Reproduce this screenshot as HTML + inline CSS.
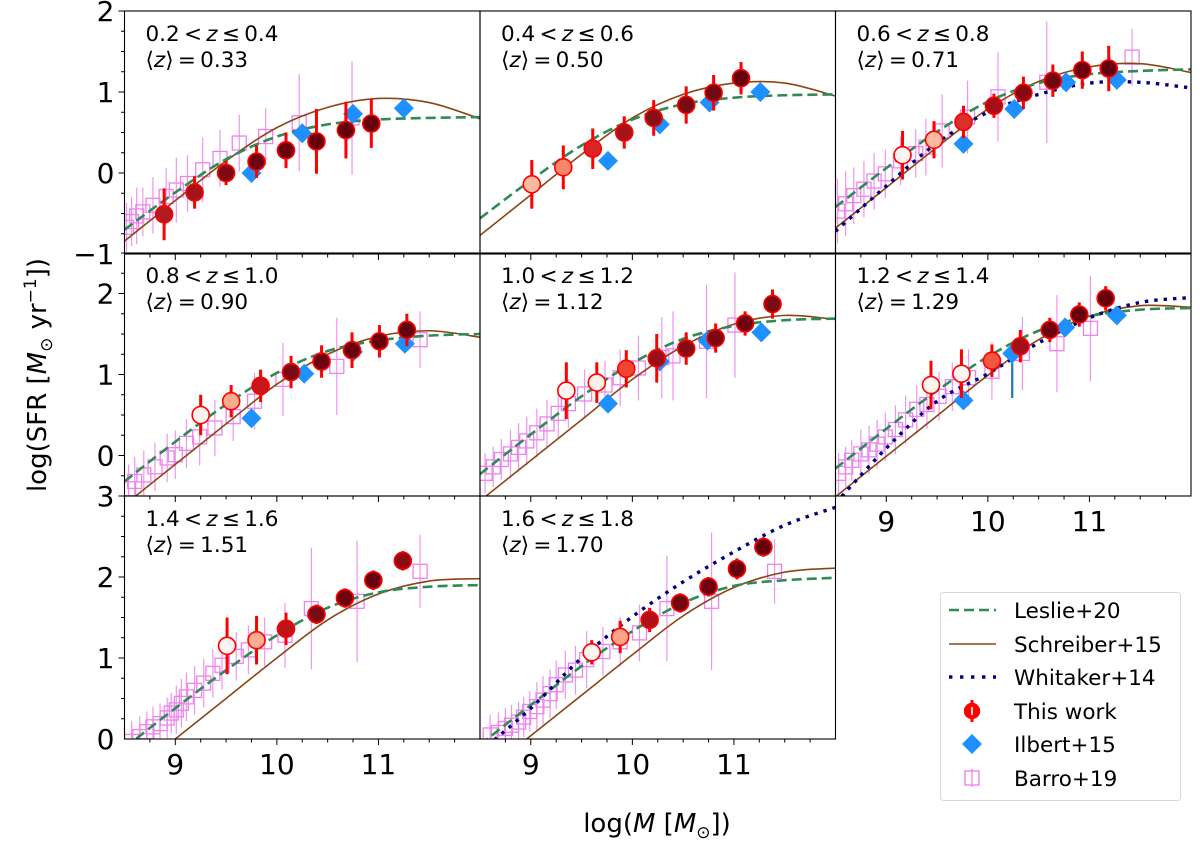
<!DOCTYPE html>
<html><head><meta charset="utf-8"><title>SFR main sequence</title>
<style>
html,body{margin:0;padding:0;background:#fff;}
svg{display:block;font-family:"DejaVu Sans","Liberation Sans",sans-serif;}
</style></head>
<body>
<svg id="chart" width="1200" height="845" viewBox="0 0 1200 845" xmlns="http://www.w3.org/2000/svg"></svg>
<script>
// ---------- data ----------
const zRanges = ["0.2","0.4","0.6","0.8","1.0","1.2","1.4","1.6","1.8"];
const zMeans = ["0.33","0.50","0.71","0.90","1.12","1.29","1.51","1.70"];
const massGrid = [8.5, 9, 9.5, 10, 10.5, 11, 11.5, 12];
const leslieCurves = [
  [-0.70,-0.24,0.17,0.45,0.60,0.66,0.68,0.69],
  [-0.56,-0.09,0.34,0.66,0.85,0.93,0.96,0.97],
  [-0.42,0.06,0.51,0.88,1.11,1.22,1.26,1.28],
  [-0.32,0.17,0.63,1.02,1.29,1.42,1.48,1.50],
  [-0.23,0.26,0.73,1.14,1.44,1.60,1.67,1.69],
  [-0.16,0.33,0.80,1.22,1.54,1.72,1.80,1.82],
  [-0.11,0.38,0.85,1.28,1.62,1.81,1.88,1.90],
  [-0.07,0.42,0.90,1.33,1.68,1.89,1.96,1.99]
];
const schreiberCurves = [
  [-0.84,-0.34,0.15,0.56,0.81,0.92,0.87,0.67],
  [-0.77,-0.27,0.23,0.68,0.97,1.11,1.11,0.95],
  [-0.68,-0.18,0.32,0.79,1.13,1.31,1.35,1.24],
  [-0.61,-0.11,0.39,0.88,1.25,1.47,1.54,1.46],
  [-0.56,-0.06,0.44,0.94,1.35,1.62,1.73,1.68],
  [-0.51,-0.01,0.49,0.99,1.43,1.72,1.85,1.83],
  [-0.50,0.00,0.50,1.00,1.47,1.79,1.95,1.98],
  [-0.46,0.04,0.54,1.04,1.52,1.87,2.06,2.11]
];
const whitakerCurves = [
  null, null,
  [-0.72,-0.16,0.37,0.75,0.97,1.11,1.12,1.05],
  null, null,
  [-0.59,0.09,0.67,1.01,1.39,1.70,1.89,1.95],
  null,
  [-0.16,0.38,1.00,1.51,1.94,2.31,2.64,2.86]
];
const twMass = [
  [8.89,9.19,9.50,9.80,10.09,10.39,10.68,10.93],
  [9.01,9.32,9.61,9.92,10.21,10.53,10.80,11.07],
  [9.16,9.47,9.76,10.06,10.35,10.64,10.93,11.19],
  [9.25,9.55,9.84,10.14,10.44,10.74,11.01,11.28],
  [9.35,9.65,9.94,10.24,10.53,10.82,11.11,11.38],
  [9.44,9.74,10.04,10.32,10.61,10.90,11.16],
  [9.51,9.80,10.09,10.39,10.67,10.95,11.24],
  [9.60,9.88,10.17,10.47,10.75,11.03,11.29]
];
const twSfr = [
  [-0.51,-0.24,0.00,0.14,0.28,0.39,0.53,0.61],
  [-0.14,0.07,0.30,0.50,0.68,0.84,0.99,1.17],
  [0.22,0.41,0.63,0.83,0.99,1.14,1.27,1.29],
  [0.50,0.67,0.86,1.03,1.16,1.30,1.41,1.55],
  [0.80,0.90,1.07,1.20,1.32,1.45,1.63,1.87],
  [0.87,1.01,1.17,1.35,1.55,1.74,1.94],
  [1.15,1.22,1.36,1.54,1.74,1.96,2.20],
  [1.07,1.26,1.47,1.68,1.88,2.10,2.37]
];
const twErr = [
  [0.32,0.2,0.15,0.2,0.22,0.4,0.35,0.3],
  [0.3,0.27,0.25,0.2,0.22,0.23,0.22,0.2],
  [0.3,0.23,0.2,0.15,0.2,0.2,0.23,0.28],
  [0.25,0.2,0.2,0.2,0.2,0.22,0.2,0.2],
  [0.35,0.25,0.23,0.3,0.2,0.18,0.15,0.18],
  [0.3,0.3,0.2,0.2,0.15,0.15,0.15],
  [0.35,0.3,0.2,0.12,0.12,0.12,0.12],
  [0.15,0.2,0.15,0.12,0.12,0.13,0.12]
];
const twFill = [
  ['#b11a1e','#a51419','#7d0a12','#6e0210','#6a000d','#67000d','#67000d','#67000d'],
  ['#fbbba0','#f9866b','#d92525','#a51419','#850f15','#7a0b12','#700a10','#67000d'],
  ['#fff5f0','#fcbba1','#dc2e2a','#a50f15','#860811','#720610','#6a000d','#67000d'],
  ['#fff5f0','#fcab8f','#c8171c','#7c0a12','#6e0210','#6a000d','#67000d','#67000d'],
  ['#fff5f0','#fff0e8','#ef4533','#99101a','#860c12','#7a0610','#6e0210','#7a0b12'],
  ['#fff5f0','#fff5f0','#f1583f','#a11018','#6e0210','#6a000d','#67000d'],
  ['#fff5f0','#fcae91','#bc141a','#7a0b12','#6e0210','#6a000d','#8f0b14'],
  ['#fff5f0','#fca486','#ae1117','#700a10','#6e0210','#6a000d','#67000d']
];
const ilMass = [
  [9.75,10.25,10.75,11.25],[9.76,10.27,10.76,11.26],[9.76,10.26,10.77,11.27],
  [9.75,10.27,10.75,11.26],[9.76,10.27,10.74,11.27],[9.76,10.24,10.76,11.27],[],[]
];
const ilSfr = [
  [0.00,0.49,0.73,0.80],[0.15,0.60,0.87,1.00],[0.36,0.79,1.12,1.15],
  [0.46,1.01,1.28,1.38],[0.64,1.16,1.42,1.52],[0.68,1.26,1.58,1.73],[],[]
];
const ilErrLow = [[0,0,0,0],[0,0,0,0],[0,0,0,0],[0,0,0,0],[0,0,0,0],[0,0.55,0,0],[],[]];
const baMass = [
  [8.52,8.57,8.62,8.68,8.78,8.91,9.01,9.12,9.27,9.44,9.63,9.89,10.22,10.74],
  [],
  [8.52,8.60,8.68,8.78,8.88,8.99,9.14,9.29,9.39,9.55,9.80,10.10,10.58,11.42],
  [8.54,8.60,8.69,8.80,8.92,9.00,9.11,9.24,9.39,9.57,9.78,10.06,10.59,11.41],
  [8.55,8.63,8.71,8.80,8.88,8.96,9.06,9.16,9.27,9.37,9.53,9.73,9.88,10.06,10.29,10.40,10.73,11.01],
  [8.53,8.60,8.66,8.75,8.83,8.91,8.99,9.09,9.19,9.30,9.40,9.52,9.65,9.81,10.04,10.34,10.68,11.01],
  [8.57,8.65,8.72,8.78,8.85,8.92,8.96,9.01,9.06,9.11,9.19,9.28,9.37,9.46,9.60,9.72,9.88,10.08,10.34,10.79,11.41],
  [8.60,8.68,8.75,8.81,8.88,8.93,8.99,9.06,9.12,9.19,9.25,9.34,9.44,9.55,9.71,9.88,10.07,10.34,10.78,11.40]
];
const baSfr = [
  [-0.67,-0.60,-0.53,-0.48,-0.40,-0.29,-0.21,-0.13,0.04,0.18,0.37,0.45,0.62,0.68],
  [],
  [-0.47,-0.38,-0.28,-0.20,-0.10,-0.01,0.15,0.24,0.32,0.52,0.69,0.94,1.12,1.43],
  [-0.41,-0.32,-0.24,-0.14,-0.03,0.01,0.15,0.23,0.34,0.48,0.67,0.94,1.10,1.43],
  [-0.22,-0.14,-0.05,0.02,0.10,0.18,0.28,0.39,0.52,0.64,0.76,0.87,0.96,1.08,1.21,1.23,1.41,1.61],
  [-0.22,-0.14,-0.06,0.02,0.07,0.14,0.23,0.32,0.44,0.57,0.63,0.73,0.85,0.96,1.04,1.26,1.38,1.57],
  [-0.03,0.03,0.09,0.15,0.19,0.26,0.32,0.36,0.44,0.52,0.60,0.69,0.81,0.91,1.02,1.10,1.20,1.28,1.61,1.70,2.07],
  [0.05,0.08,0.13,0.17,0.21,0.27,0.34,0.40,0.48,0.56,0.67,0.79,0.85,0.98,1.08,1.20,1.31,1.61,1.70,2.07]
];
const baErr = [
  [0.3,0.3,0.35,0.3,0.35,0.35,0.4,0.35,0.4,0.35,0.35,0.35,0.6,0.7],
  [],
  [0.4,0.4,0.35,0.35,0.35,0.3,0.3,0.3,0.35,0.45,0.45,0.55,0.75,0.35],
  [0.3,0.3,0.3,0.3,0.3,0.3,0.3,0.35,0.35,0.3,0.35,0.45,0.6,0.35],
  [0.25,0.25,0.25,0.3,0.3,0.3,0.3,0.3,0.3,0.3,0.3,0.3,0.35,0.4,0.5,0.55,0.7,0.65],
  [0.25,0.25,0.25,0.3,0.3,0.3,0.3,0.3,0.3,0.3,0.3,0.3,0.3,0.35,0.35,0.45,0.6,0.65],
  [0.25,0.25,0.25,0.25,0.25,0.25,0.25,0.3,0.3,0.3,0.3,0.3,0.3,0.3,0.3,0.3,0.3,0.4,0.75,0.75,0.45],
  [0.25,0.25,0.25,0.25,0.25,0.25,0.25,0.3,0.3,0.3,0.3,0.3,0.3,0.35,0.3,0.3,0.35,0.65,0.85,0.4]
];
const xTickLabels = ["9","10","11"];
const yTickRows = [["2","1","0","−1"],["2","1","0"],["3","2","1","0"]];

// ---------- layout ----------
const NS = "http://www.w3.org/2000/svg";
const svg = document.getElementById('chart');
const colLeft = [124.5, 480, 835.5];
const rowTop = [11, 253, 496];
const PW = 355.5, PH = 243;
const rowYmin = [-1, -0.5, 0];
const XMIN = 8.5, XMAX = 12;
function xScale(col, m){ return colLeft[col] + (m - XMIN) / (XMAX - XMIN) * PW; }
function yScale(row, v){ return rowTop[row] + PH - (v - rowYmin[row]) / 3 * PH; }
function mk(tag, attrs, parent){
  const e = document.createElementNS(NS, tag);
  for (const k in attrs) e.setAttribute(k, attrs[k]);
  (parent || svg).appendChild(e);
  return e;
}
function smoothPath(pts){
  let d = 'M' + pts[0][0].toFixed(2) + ',' + pts[0][1].toFixed(2);
  for (let i = 0; i < pts.length - 1; i++){
    const p0 = pts[Math.max(0,i-1)], p1 = pts[i], p2 = pts[i+1], p3 = pts[Math.min(pts.length-1,i+2)];
    const c1x = p1[0] + (p2[0]-p0[0])/6, c1y = p1[1] + (p2[1]-p0[1])/6;
    const c2x = p2[0] - (p3[0]-p1[0])/6, c2y = p2[1] - (p3[1]-p1[1])/6;
    d += ' C' + c1x.toFixed(2)+','+c1y.toFixed(2)+' '+c2x.toFixed(2)+','+c2y.toFixed(2)+' '+p2[0].toFixed(2)+','+p2[1].toFixed(2);
  }
  return d;
}
const defs = mk('defs', {});

for (let p = 0; p < 8; p++){
  const row = Math.floor(p/3), col = p % 3;
  const x0 = colLeft[col], y0 = rowTop[row];
  const g = mk('g', {});
  
  
  const cp = mk('clipPath', {id: 'clip' + p}, defs);
  mk('rect', {x: x0, y: y0, width: PW, height: PH}, cp);
  const plot = mk('g', {'clip-path': 'url(#clip' + p + ')'}, g);

  const bg = mk('g', {}, plot);
  
  
  for (let i = 0; i < baMass[p].length; i++){
    const cx = xScale(col, baMass[p][i]), cy = yScale(row, baSfr[p][i]);
    const e = mk('line', {x1: cx, x2: cx, y1: yScale(row, baSfr[p][i] + baErr[p][i]), y2: yScale(row, baSfr[p][i] - baErr[p][i]), stroke: '#ee82ee', 'stroke-width': 1.2, opacity: 0.85}, bg);
    
    
    const s = mk('rect', {x: cx - 7, y: cy - 7, width: 14, height: 14, fill: 'none', stroke: '#ee82ee', 'stroke-width': 1.3}, bg);
    
    
  }
  const ptsOf = arr => massGrid.map((m, i) => [xScale(col, m), yScale(row, arr[i])]);
  const sc = mk('path', {d: smoothPath(ptsOf(schreiberCurves[p])), fill: 'none', stroke: '#8b4513', 'stroke-width': 1.6}, plot);
  
  
  const lc = mk('path', {d: smoothPath(ptsOf(leslieCurves[p])), fill: 'none', stroke: '#2e8b57', 'stroke-width': 2.6, 'stroke-dasharray': '10,5'}, plot);
  
  
  if (whitakerCurves[p]){
    const wc = mk('path', {d: smoothPath(ptsOf(whitakerCurves[p])), fill: 'none', stroke: '#000080', 'stroke-width': 3.4, 'stroke-dasharray': '3.4,6'}, plot);
    
    
  }
  for (let i = 0; i < ilMass[p].length; i++){
    const cx = xScale(col, ilMass[p][i]), cy = yScale(row, ilSfr[p][i]);
    if (ilErrLow[p][i] > 0){
      const e = mk('line', {x1: cx, x2: cx, y1: cy, y2: yScale(row, ilSfr[p][i] - ilErrLow[p][i]), stroke: '#1f77b4', 'stroke-width': 2.2}, plot);
      
      
    }
    const d = mk('polygon', {points: `${cx},${cy-10} ${cx+10},${cy} ${cx},${cy+10} ${cx-10},${cy}`, fill: '#1e90ff'}, plot);
    
    
  }
  for (let i = 0; i < twMass[p].length; i++){
    const cx = xScale(col, twMass[p][i]), cy = yScale(row, twSfr[p][i]);
    const e = mk('line', {x1: cx, x2: cx, y1: yScale(row, twSfr[p][i] + twErr[p][i]), y2: yScale(row, twSfr[p][i] - twErr[p][i]), stroke: '#ff0000', 'stroke-width': 3}, plot);
    
    
    const c = mk('circle', {cx: cx, cy: cy, r: 8.5, fill: twFill[p][i], stroke: '#ff0000', 'stroke-width': 1.6}, plot);
    
    
  }
  const fr = mk('rect', {x: x0, y: y0, width: PW, height: PH, fill: 'none', stroke: '#000', 'stroke-width': 1.1}, g);
  
  
  for (let t = 8.75; t < 12; t += 0.25){
    const x = xScale(col, t), major = Math.abs(t - Math.round(t)) < 1e-6;
    mk('line', {x1: x, x2: x, y1: y0 + PH, y2: y0 + PH + (major ? 6 : 3.5), stroke: '#000', 'stroke-width': 1}, g);
  }
  if (col === 0){
    for (let v = rowYmin[row] + 0.25; v < rowYmin[row] + 3 + 0.01; v += 0.25){
      const y = yScale(row, v), major = Math.abs(v - Math.round(v)) < 1e-6;
      mk('line', {x1: x0, x2: x0 - (major ? 6 : 3.5), y1: y, y2: y, stroke: '#000', 'stroke-width': 1}, g);
    }
    const labs = yTickRows[row];
    const top = row === 1 ? 2 : rowYmin[row] + 3;
    for (let k = 0; k < labs.length; k++){
      const v = top - k;
      const t = mk('text', {x: x0 - 10, y: yScale(row, v) + 10, 'text-anchor': 'end', 'font-size': 28, fill: '#000'}, g);
      t.textContent = labs[k];
      
      
    }
  }
  if (row === 2 || p === 5){
    for (let k = 0; k < xTickLabels.length; k++){
      const t = mk('text', {x: xScale(col, 9 + k), y: y0 + PH + 35, 'text-anchor': 'middle', 'font-size': 28, fill: '#000'}, g);
      t.textContent = xTickLabels[k];
      
      
    }
  }
  const a1 = mk('text', {x: x0 + 21, y: y0 + 30, 'font-size': 21.5, fill: '#000'}, g);
  a1.innerHTML = zRanges[p] + '&#8201;&lt;&#8201;<tspan font-style="italic">z</tspan>&#8201;≤&#8201;' + zRanges[p+1];
  
  
  const a2 = mk('text', {x: x0 + 21, y: y0 + 56, 'font-size': 21.5, fill: '#000'}, g);
  a2.innerHTML = '⟨<tspan font-style="italic">z</tspan>⟩&#8201;=&#8201;' + zMeans[p];
  
  
}

const yt = mk('text', {x: 0, y: 0, transform: 'translate(46,375) rotate(-90)', 'text-anchor': 'middle', 'font-size': 26, fill: '#000'});
yt.innerHTML = 'log(SFR [<tspan font-style="italic">M</tspan><tspan font-size="17" dy="6">⊙</tspan><tspan dy="-6"> yr</tspan><tspan font-size="17" dy="-10">−1</tspan><tspan dy="10">])</tspan>';


const xt = mk('text', {x: 657, y: 832, 'text-anchor': 'middle', 'font-size': 26, fill: '#000'});
xt.innerHTML = 'log(<tspan font-style="italic">M</tspan> [<tspan font-style="italic">M</tspan><tspan font-size="17" dy="6">⊙</tspan><tspan dy="-6">])</tspan>';



const lg = mk('g', {});


mk('rect', {x: 940.5, y: 592.5, width: 240, height: 208, rx: 3, fill: '#fff', stroke: '#d9d9d9', 'stroke-width': 1}, lg);
const legendNames = ['Leslie+20','Schreiber+15','Whitaker+14','This work','Ilbert+15','Barro+19'];
const legendY = [610, 644, 677, 711, 744, 778];
for (let i = 0; i < legendNames.length; i++){
  const y = legendY[i];
  const eg = mk('g', {}, lg);
  
  
  if (i === 0) mk('line', {x1: 949, x2: 996, y1: y, y2: y, stroke: '#2e8b57', 'stroke-width': 2.6, 'stroke-dasharray': '10,5'}, eg);
  if (i === 1) mk('line', {x1: 949, x2: 996, y1: y, y2: y, stroke: '#8b4513', 'stroke-width': 1.6}, eg);
  if (i === 2) mk('line', {x1: 949, x2: 996, y1: y, y2: y, stroke: '#000080', 'stroke-width': 3.4, 'stroke-dasharray': '3.4,7.6'}, eg);
  if (i === 3){
    mk('line', {x1: 972, x2: 972, y1: y - 11, y2: y + 11, stroke: '#ff0000', 'stroke-width': 3}, eg);
    mk('circle', {cx: 972, cy: y, r: 7.5, fill: '#ff0000', stroke: '#ff0000', 'stroke-width': 1.4}, eg);
    mk('line', {x1: 972, x2: 972, y1: y - 4, y2: y + 4, stroke: '#ffffff', 'stroke-width': 1.6}, eg);
  }
  if (i === 4) mk('polygon', {points: `972,${y-10} 982,${y} 972,${y+10} 962,${y}`, fill: '#1e90ff'}, eg);
  if (i === 5){
    mk('rect', {x: 965, y: y - 7, width: 14, height: 14, fill: 'none', stroke: '#ee82ee', 'stroke-width': 1.4}, eg);
    mk('line', {x1: 972, x2: 972, y1: y - 9, y2: y + 9, stroke: '#ee82ee', 'stroke-width': 1.2}, eg);
  }
  const t = mk('text', {x: 1014, y: y + 8, 'font-size': 21.5, fill: '#000'}, eg);
  t.textContent = legendNames[i];
}
</script>
</body></html>
